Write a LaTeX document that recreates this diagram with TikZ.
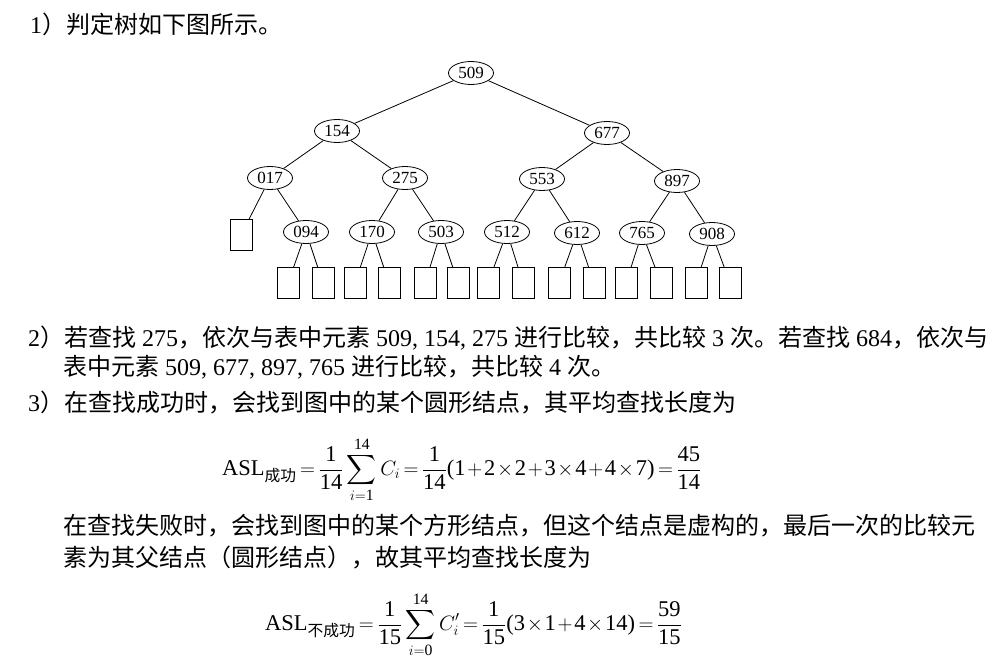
\documentclass[tikz,border=0pt]{standalone}
\usepackage{amsmath}
\usepackage{fontspec}
\usetikzlibrary{shapes.geometric}
\setmainfont{Liberation Serif}
\newfontfamily\cjk{Noto Sans CJK SC}
\newcommand\zh[1]{{\cjk #1}}
\newcommand\tn[1]{\text{#1}}
\begin{document}
\begin{tikzpicture}[x=1pt,y=-1pt,
  en/.style={draw, ellipse, line width=0.8pt, minimum width=45pt, minimum height=23pt, inner sep=0pt, font=\fontsize{17}{18}\selectfont},
  bx/.style={draw, rectangle, line width=0.8pt, minimum width=22pt, minimum height=31pt, inner sep=0pt},
  ed/.style={line width=0.8pt},
  txt/.style={anchor=base west, inner sep=0pt, font=\fontsize{24}{28}\selectfont},
  fm/.style={anchor=west, inner sep=0pt, font=\fontsize{22.5}{28}\selectfont}]
\useasboundingbox (0,0) rectangle (1007,672);
\fill[white] (0,0) rectangle (1007,672);

% tree
\node[en] (n509) at (471,73) {509};
\node[en] (n154) at (337,131) {154};
\node[en] (n677) at (607,133) {677};
\node[en] (n017) at (270,178) {017};
\node[en] (n275) at (405,178) {275};
\node[en] (n553) at (542,179) {553};
\node[en] (n897) at (677,181) {897};
\node[en] (n094) at (306,232) {094};
\node[en] (n170) at (372,232) {170};
\node[en] (n503) at (441,232) {503};
\node[en] (n512) at (507,232) {512};
\node[en] (n612) at (577,233) {612};
\node[en] (n765) at (642,233) {765};
\node[en] (n908) at (712,234) {908};
\node[bx] (b0) at (241,235) {};
\node[bx] (b1) at (288,283) {};
\node[bx] (b2) at (323,283) {};
\node[bx] (b3) at (355,283) {};
\node[bx] (b4) at (389,283) {};
\node[bx] (b5) at (425,283) {};
\node[bx] (b6) at (458,283) {};
\node[bx] (b7) at (488,283) {};
\node[bx] (b8) at (523,283) {};
\node[bx] (b9) at (559,283) {};
\node[bx] (b10) at (594,283) {};
\node[bx] (b11) at (626,283) {};
\node[bx] (b12) at (661,283) {};
\node[bx] (b13) at (696,283) {};
\node[bx] (b14) at (730,283) {};

\draw[ed] (n509) -- (n154);
\draw[ed] (n509) -- (n677);
\draw[ed] (n154) -- (n017);
\draw[ed] (n154) -- (n275);
\draw[ed] (n677) -- (n553);
\draw[ed] (n677) -- (n897);
\draw[ed] (n017) -- (b0);
\draw[ed] (n017) -- (n094);
\draw[ed] (n275) -- (n170);
\draw[ed] (n275) -- (n503);
\draw[ed] (n553) -- (n512);
\draw[ed] (n553) -- (n612);
\draw[ed] (n897) -- (n765);
\draw[ed] (n897) -- (n908);
\draw[ed] (n094) -- (b1);
\draw[ed] (n094) -- (b2);
\draw[ed] (n170) -- (b3);
\draw[ed] (n170) -- (b4);
\draw[ed] (n503) -- (b5);
\draw[ed] (n503) -- (b6);
\draw[ed] (n512) -- (b7);
\draw[ed] (n512) -- (b8);
\draw[ed] (n612) -- (b9);
\draw[ed] (n612) -- (b10);
\draw[ed] (n765) -- (b11);
\draw[ed] (n765) -- (b12);
\draw[ed] (n908) -- (b13);
\draw[ed] (n908) -- (b14);

% text
\node[txt] (t1) at (30,33) {1\zh{）判定树如下图所示。}};
\node[txt] (t2) at (28,346) {2\zh{）若查找} 275\zh{，依次与表中元素} 509, 154, 275 \zh{进行比较，共比较} 3 \zh{次。若查找} 684\zh{，依次与}};
\node[txt] (t3) at (63,375) {\zh{表中元素} 509, 677, 897, 765 \zh{进行比较，共比较} 4 \zh{次。}};
\node[txt] (t4) at (28,411) {3\zh{）在查找成功时，会找到图中的某个圆形结点，其平均查找长度为}};
\node[fm] (f1) at (222,470) {\thickmuskip=3mu\medmuskip=1.5mu $\displaystyle \tn{ASL}_{\text{\cjk 成功}} = \frac{\tn{1}}{\tn{14}}\sum_{i=\tn{1}}^{\tn{14}} C_i = \frac{\tn{1}}{\tn{14}}\tn{(}\tn{1}+\tn{2}\times\tn{2}+\tn{3}\times\tn{4}+\tn{4}\times\tn{7}\tn{)} = \frac{\tn{45}}{\tn{14}}$};
\node[txt] (t5) at (63,534) {\zh{在查找失败时，会找到图中的某个方形结点，但这个结点是虚构的，最后一次的比较元}};
\node[txt] (t6) at (63,566) {\zh{素为其父结点（圆形结点），故其平均查找长度为}};
\node[fm] (f2) at (265,625) {\thickmuskip=3mu\medmuskip=1.5mu $\displaystyle \tn{ASL}_{\text{\cjk 不成功}} = \frac{\tn{1}}{\tn{15}}\sum_{i=\tn{0}}^{\tn{14}} C'_i = \frac{\tn{1}}{\tn{15}}\tn{(}\tn{3}\times\tn{1}+\tn{4}\times\tn{14}\tn{)} = \frac{\tn{59}}{\tn{15}}$};
\end{tikzpicture}
\end{document}
